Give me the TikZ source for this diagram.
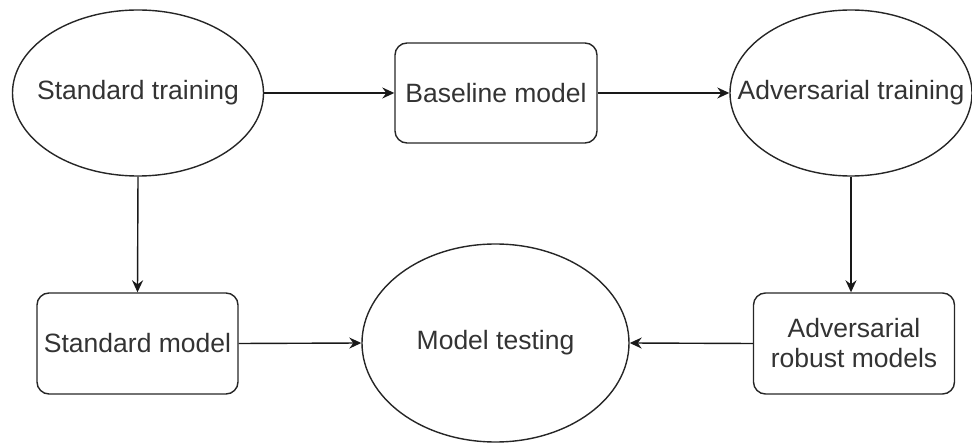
\documentclass[tikz,border=0pt]{standalone}
\usepackage{fontspec}
\setmainfont{Liberation Sans}
\usetikzlibrary{shapes.geometric,arrows.meta}
\begin{document}
\begin{tikzpicture}[x=1pt,y=-1pt,
  every node/.style={font=\fontsize{26.5}{30}\selectfont, text=black!80},
  ell/.style={draw=black!85, line width=1.4pt, ellipse, inner sep=0pt},
  lbl/.style={inner sep=0pt, align=center},
  rbox/.style={draw=black!85, line width=1.4pt, rectangle, rounded corners=12pt, minimum width=201pt, minimum height=101pt, inner sep=0pt, align=center},
  conn/.style={draw=black!90, line width=1.4pt, -{Stealth[length=12pt,width=11pt,inset=4pt]}}
]
\useasboundingbox (0,0) rectangle (972,443);
\node[ell, minimum width=251pt, minimum height=166pt] (st) at (138,93) {};
\node[lbl] (stl) at (st.center) {Standard training};
\node[rbox, minimum width=202pt, minimum height=100pt] (bm) at (496,93) {Baseline model};
\node[ell, minimum width=242pt, minimum height=166pt] (at) at (851,93) {};
\node[lbl] (atl) at (at.center) {Adversarial training};
\node[rbox] (sm) at (137.5,343.5) {Standard model};
\node[ell, minimum width=267pt, minimum height=198pt] (mt) at (495.5,343) {};
\node[lbl] (mtl) at (mt.center) {Model testing};
\node[rbox] (rm) at (854,343.5) {Adversarial\\robust models};
\draw[conn] (st.east) -- (bm.west);
\draw[conn] (bm.east) -- (at.west);
\draw[conn] (st.south) -- (sm.north);
\draw[conn] (at.south) -- (at.south |- rm.north);
\draw[conn] (sm.east) -- (mt.west);
\draw[conn] (rm.west) -- (mt.east);
\end{tikzpicture}
\end{document}
